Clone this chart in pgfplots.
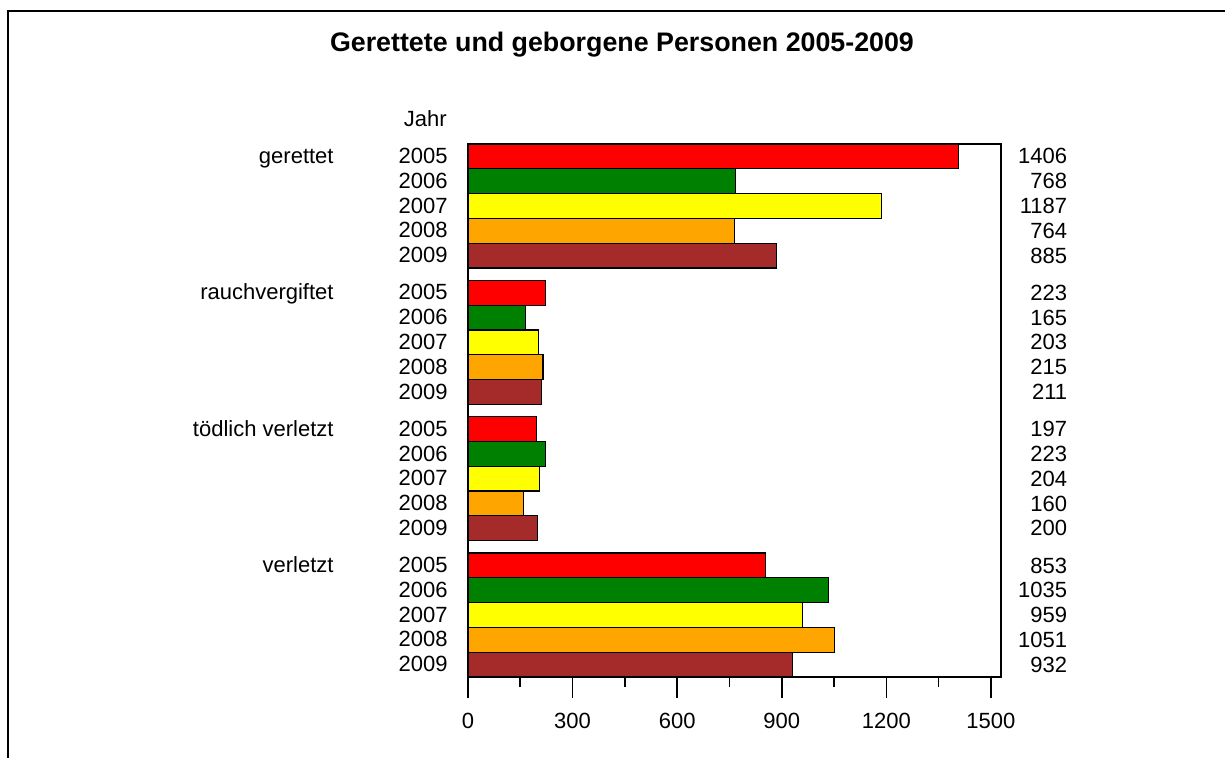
\documentclass[border=0pt]{standalone}
\usepackage{pgfplots}
\pgfplotsset{compat=1.18}
\usepackage{pgfplotstable}
\usepackage{fontspec}
\setmainfont{Liberation Sans}

\definecolor{cRed}{RGB}{255,0,0}
\definecolor{cGreen}{RGB}{0,128,0}
\definecolor{cYellow}{RGB}{255,255,0}
\definecolor{cOrange}{RGB}{255,165,0}
\definecolor{cBrown}{RGB}{165,42,42}

% y = slot position (groups of five, half a slot between groups), v = value
\pgfplotstableread{
y v
0 1406
5.5 223
11 197
16.5 853
}\jA
\pgfplotstableread{
y v
1 768
6.5 165
12 223
17.5 1035
}\jB
\pgfplotstableread{
y v
2 1187
7.5 203
13 204
18.5 959
}\jC
\pgfplotstableread{
y v
3 764
8.5 215
14 160
19.5 1051
}\jD
\pgfplotstableread{
y v
4 885
9.5 211
15 200
20.5 932
}\jE

\pgfplotsset{
  valcol/.style={sharp plot, bar shift=0pt, draw=none, mark=none, point meta=explicit symbolic,
    nodes near coords, nodes near coords style={anchor=east, inner sep=0pt, font=\fontsize{11}{13.2}\selectfont}},
}

\begin{document}
\begin{tikzpicture}[font=\fontsize{11}{13.2}\selectfont]
\useasboundingbox (-234pt,-40.5pt) rectangle (378.5pt,338.5pt);
\draw[line width=1pt] (-230pt,-45pt) -- (-230pt,333pt) -- (385pt,333pt);
\begin{axis}[
  at={(0,0)}, anchor=south west,
  scale only axis, width=266.5pt, height=266.5pt,
  xbar, bar width=1,
  xmin=0, xmax=1529, ymin=-0.5, ymax=21, y dir=reverse,
  axis line style={line width=1pt},
  clip=false,
  xtick={0,300,...,1500}, minor xtick={150,450,...,1350},
  xtick pos=bottom, tick align=outside,
  major tick length=10.5pt, minor tick length=5pt,
  xtick style={line width=0.8pt, black},
  ytick pos=left,
  ytick={0,1,2,3,4,5.5,6.5,7.5,8.5,9.5,11,12,13,14,15,16.5,17.5,18.5,19.5,20.5},
  yticklabels={2005,2006,2007,2008,2009,2005,2006,2007,2008,2009,2005,2006,2007,2008,2009,2005,2006,2007,2008,2009},
  ytick style={draw=none},
  ticklabel style={font=\fontsize{11}{13.2}\selectfont},
  xticklabel style={yshift=-4pt},
  yticklabel style={anchor=base east, inner sep=0pt, yshift=-0.358em, xshift=0.5pt},
  extra y ticks={0,5.5,11,16.5},
  extra y tick labels={gerettet,rauchvergiftet,tödlich verletzt,verletzt},
  extra y tick style={ytick style={draw=none}, yticklabel style={xshift=-57pt}},
  /pgf/number format/1000 sep={},
  /pgf/number format/assume math mode=true,
]
\addplot[bar shift=0pt, draw=black, line width=0.6pt, fill=cRed] table[x=v, y=y] {\jA};
\addplot[bar shift=0pt, draw=black, line width=0.6pt, fill=cGreen] table[x=v, y=y] {\jB};
\addplot[bar shift=0pt, draw=black, line width=0.6pt, fill=cYellow] table[x=v, y=y] {\jC};
\addplot[bar shift=0pt, draw=black, line width=0.6pt, fill=cOrange] table[x=v, y=y] {\jD};
\addplot[bar shift=0pt, draw=black, line width=0.6pt, fill=cBrown] table[x=v, y=y] {\jE};
% value column at the right
\addplot[valcol] table[x expr=1720, y=y, meta=v] {\jA};
\addplot[valcol] table[x expr=1720, y=y, meta=v] {\jB};
\addplot[valcol] table[x expr=1720, y=y, meta=v] {\jC};
\addplot[valcol] table[x expr=1720, y=y, meta=v] {\jD};
\addplot[valcol] table[x expr=1720, y=y, meta=v] {\jE};
\end{axis}
\node[anchor=base east, inner sep=0pt] at (-10.5pt,275.2pt) {Jahr};
\node[anchor=base, inner sep=0pt, font=\bfseries\fontsize{13.4}{16}\selectfont] at (77pt,312.6pt) {Gerettete und geborgene Personen 2005-2009};
\end{tikzpicture}
\end{document}
